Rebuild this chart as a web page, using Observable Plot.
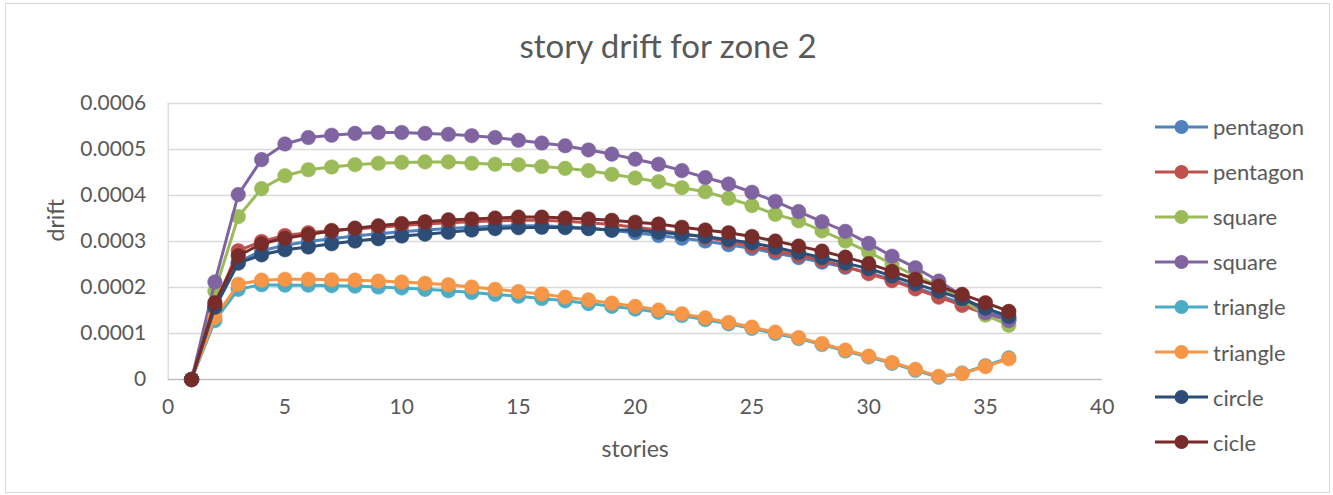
<!DOCTYPE html>
<html>
<head>
<meta charset="utf-8">
<script src="https://cdn.jsdelivr.net/npm/d3@7"></script>
<script src="https://cdn.jsdelivr.net/npm/@observablehq/plot@0.6"></script>
<style>
  body { margin: 0; background: #fff; font-family: Lato, "Open Sans", sans-serif; }
  #chart { position: relative; width: 1333px; height: 495px; overflow: hidden; background: #fff; }
  #frame { position: absolute; left: 5px; top: 3px; width: 1325px; height: 490px; border: 1px solid #d9d9d9; box-sizing: border-box; }
  #title { position: absolute; left: 0; top: 29px; width: 1336px; text-align: center; font-size: 33px; color: #595959; line-height: 1; }
  #plot { position: absolute; left: 0; top: 80px; }
  #legend { position: absolute; left: 1155px; top: 104px; }
  .row { position: absolute; left: 0; height: 45px; display: flex; align-items: center; white-space: nowrap; font-size: 22px; color: #595959; }
  .row svg { margin-right: 5px; }
</style>
</head>
<body>
<div id="chart">
  <div id="frame"></div>
  <div id="title">story drift for zone 2</div>
  <div id="plot"></div>
  <div id="legend"></div>
</div>
<script>
// Story numbers along the x axis
const stories = d3.range(1, 37);

// Drift per story, one array per series
const pentagonA = [0, 0.000155, 0.000255, 0.000280, 0.000292, 0.000300, 0.000306, 0.000312, 0.000317, 0.000321, 0.000325, 0.000328,
  0.000331, 0.000333, 0.000334, 0.000334, 0.000332, 0.000329, 0.000324, 0.000319, 0.000313, 0.000307, 0.000301, 0.000293,
  0.000285, 0.000275, 0.000265, 0.000255, 0.000244, 0.000232, 0.000217, 0.000200, 0.000183, 0.000166, 0.000148, 0.000133];
const pentagonB = [0, 0.000162, 0.000280, 0.000300, 0.000313, 0.000319, 0.000324, 0.000327, 0.000331, 0.000335, 0.000338, 0.000341,
  0.000343, 0.000345, 0.000346, 0.000346, 0.000344, 0.000341, 0.000337, 0.000331, 0.000325, 0.000317, 0.000309, 0.000300,
  0.000290, 0.000280, 0.000270, 0.000259, 0.000246, 0.000230, 0.000215, 0.000197, 0.000179, 0.000161, 0.000143, 0.000130];
const squareA = [0, 0.000192, 0.000354, 0.000415, 0.000443, 0.000456, 0.000462, 0.000467, 0.000470, 0.000472, 0.000473, 0.000473,
  0.000470, 0.000468, 0.000467, 0.000463, 0.000459, 0.000454, 0.000446, 0.000438, 0.000430, 0.000417, 0.000408, 0.000394,
  0.000378, 0.000359, 0.000345, 0.000323, 0.000301, 0.000277, 0.000251, 0.000225, 0.000204, 0.000174, 0.000140, 0.000118];
const squareB = [0, 0.000212, 0.000402, 0.000478, 0.000512, 0.000526, 0.000531, 0.000535, 0.000537, 0.000537, 0.000535, 0.000533,
  0.000530, 0.000526, 0.000520, 0.000514, 0.000508, 0.000499, 0.000490, 0.000479, 0.000468, 0.000454, 0.000439, 0.000425,
  0.000407, 0.000387, 0.000365, 0.000343, 0.000322, 0.000296, 0.000268, 0.000243, 0.000214, 0.000182, 0.000145, 0.000128];
const triangleA = [0, 0.000128, 0.000196, 0.000206, 0.000205, 0.000205, 0.000204, 0.000203, 0.000201, 0.000199, 0.000196, 0.000193,
  0.000189, 0.000185, 0.000181, 0.000176, 0.000171, 0.000165, 0.000159, 0.000153, 0.000146, 0.000139, 0.000130, 0.000121,
  0.000111, 0.000100, 0.000089, 0.000076, 0.000062, 0.000049, 0.000035, 0.000020, 0.000005, 0.000014, 0.000030, 0.000047];
const triangleB = [0, 0.000135, 0.000207, 0.000216, 0.000218, 0.000218, 0.000217, 0.000216, 0.000214, 0.000212, 0.000209, 0.000206,
  0.000201, 0.000196, 0.000191, 0.000186, 0.000179, 0.000173, 0.000166, 0.000159, 0.000151, 0.000143, 0.000134, 0.000124,
  0.000114, 0.000103, 0.000091, 0.000078, 0.000064, 0.000051, 0.000037, 0.000022, 0.000007, 0.000013, 0.000028, 0.000045];
const circle = [0, 0.000157, 0.000253, 0.000271, 0.000282, 0.000288, 0.000295, 0.000301, 0.000306, 0.000312, 0.000316, 0.000320,
  0.000325, 0.000328, 0.000330, 0.000331, 0.000330, 0.000328, 0.000325, 0.000325, 0.000320, 0.000316, 0.000311, 0.000304,
  0.000297, 0.000287, 0.000276, 0.000265, 0.000253, 0.000241, 0.000225, 0.000208, 0.000192, 0.000175, 0.000155, 0.000137];
const cicle = [0, 0.000167, 0.000269, 0.000295, 0.000307, 0.000315, 0.000323, 0.000329, 0.000334, 0.000339, 0.000343, 0.000347,
  0.000349, 0.000351, 0.000353, 0.000353, 0.000351, 0.000349, 0.000346, 0.000342, 0.000338, 0.000331, 0.000325, 0.000319,
  0.000311, 0.000301, 0.000290, 0.000279, 0.000266, 0.000252, 0.000235, 0.000218, 0.000203, 0.000185, 0.000167, 0.000148];

const seriesNames = ["pentagon", "pentagon", "square", "square", "triangle", "triangle", "circle", "cicle"];
const seriesValues = [pentagonA, pentagonB, squareA, squareB, triangleA, triangleB, circle, cicle];
const seriesColors = ["#4f81bd", "#c0504d", "#9bbb59", "#8064a2", "#4bacc6", "#f79646", "#2c4d75", "#772c2a"];

const xTicks = [0, 5, 10, 15, 20, 25, 30, 35, 40];
const yTicks = [0, 0.0001, 0.0002, 0.0003, 0.0004, 0.0005, 0.0006];

// Later series are drawn on top of earlier ones
const seriesMarks = seriesValues.flatMap((values, i) => {
  const rows = stories.map((s, j) => ({story: s, drift: values[j]}));
  return [
    Plot.line(rows, {x: "story", y: "drift", stroke: seriesColors[i], strokeWidth: 3}),
    Plot.dot(rows, {x: "story", y: "drift", r: 7.3, fill: seriesColors[i], stroke: seriesColors[i], strokeWidth: 0.5})
  ];
});

const chart = Plot.plot({
  width: 1333,
  height: 390,
  marginLeft: 167.7,
  marginRight: 231.3,
  marginTop: 23,
  marginBottom: 91,
  style: {fontFamily: "Lato, 'Open Sans', sans-serif", fontSize: "21px", color: "#595959", background: "transparent", overflow: "visible"},
  x: {domain: [0, 40]},
  y: {domain: [0, 0.0006]},
  marks: [
    Plot.ruleY(yTicks.filter(d => d > 0), {stroke: "#d9d9d9", strokeWidth: 1.3}),
    Plot.ruleX([0], {stroke: "#d9d9d9", strokeWidth: 1.3}),
    Plot.ruleY([0], {stroke: "#bfbfbf", strokeWidth: 1.5}),
    Plot.axisX(xTicks, {tickSize: 0, tickPadding: 20, label: null, fill: "#595959"}),
    Plot.axisY(yTicks, {tickSize: 0, tickPadding: 22, label: null, fill: "#595959",
      tickFormat: d => d === 0 ? "0" : d.toFixed(4)}),
    Plot.text(["stories"], {frameAnchor: "bottom", dy: 77, fontSize: 23, fill: "#595959"}),
    Plot.text(["drift"], {frameAnchor: "left", dx: -112, rotate: -90, fontSize: 23, fill: "#595959"}),
    ...seriesMarks
  ]
});
document.getElementById("plot").appendChild(chart);

// Legend on the right, one row per series
const legend = d3.select("#legend");
seriesNames.forEach((name, i) => {
  const row = legend.append("div").attr("class", "row").style("top", `${i * 45.1}px`);
  const svg = row.append("svg").attr("width", 53).attr("height", 18);
  svg.append("line").attr("x1", 0).attr("x2", 53).attr("y1", 9).attr("y2", 9)
    .attr("stroke", seriesColors[i]).attr("stroke-width", 3);
  svg.append("circle").attr("cx", 26.5).attr("cy", 9).attr("r", 7).attr("fill", seriesColors[i]);
  row.append("span").text(name);
});
</script>
</body>
</html>
